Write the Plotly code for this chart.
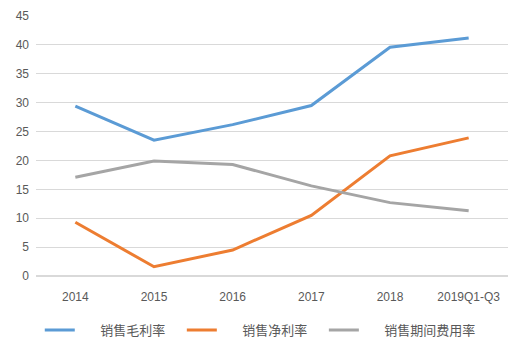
import plotly.graph_objects as go

categories = ["2014", "2015", "2016", "2017", "2018", "2019Q1-Q3"]
gross_margin = [29.4, 23.5, 26.2, 29.5, 39.6, 41.2]
net_margin = [9.3, 1.6, 4.5, 10.5, 20.8, 23.9]
expense_ratio = [17.1, 19.9, 19.3, 15.6, 12.7, 11.3]

series = [
    ("销售毛利率", gross_margin, "#5B9BD5"),
    ("销售净利率", net_margin, "#ED7D31"),
    ("销售期间费用率", expense_ratio, "#A5A5A5"),
]

pad = "\u00a0" * 7
trail = ["\u00a0" * 4, "\u00a0" * 4, ""]

fig = go.Figure()
for (name, vals, color), t in zip(series, trail):
    fig.add_trace(go.Scatter(
        x=categories, y=vals, mode="lines", name=pad + name + t,
        line=dict(color=color, width=3),
    ))

fig.update_layout(
    width=531, height=346,
    margin=dict(l=36, r=23, t=16, b=70, autoexpand=False),
    paper_bgcolor="white", plot_bgcolor="white",
    font=dict(family="Noto Sans CJK SC, Liberation Sans, sans-serif", size=12, color="#595959"),
    xaxis=dict(type="category", range=[-0.5, 5.5], showgrid=False, showline=False, ticks="",
               ticklabelstandoff=12, tickfont=dict(family="Liberation Sans, sans-serif", size=12, color="#595959")),
    yaxis=dict(range=[0, 45], dtick=5, showgrid=True, gridcolor="#D9D9D9", gridwidth=1,
               zeroline=True, zerolinecolor="#D9D9D9", showline=False, ticks="",
               ticklabelstandoff=6, tickfont=dict(family="Liberation Sans, sans-serif", size=12, color="#595959")),
    legend=dict(orientation="h", x=0.008, xanchor="left", y=-0.15, yanchor="top",
                font=dict(size=13, color="#595959"), tracegroupgap=0),
    showlegend=True,
)

fig.write_html("out.html")
